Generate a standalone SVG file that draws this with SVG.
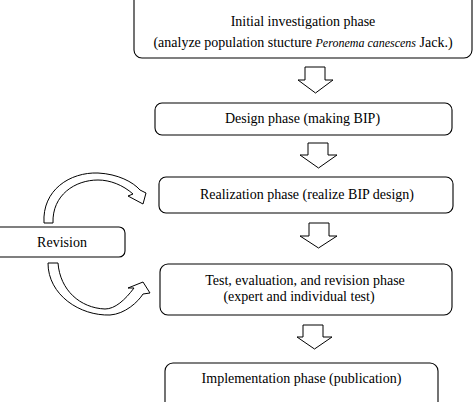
<svg xmlns="http://www.w3.org/2000/svg" width="474" height="402" viewBox="0 0 474 402">
<style>
.box{fill:#fff;stroke:#000;stroke-width:1.1}
.t{font-family:"Liberation Serif","Times New Roman","DejaVu Serif",serif;font-size:14px;fill:#000;text-anchor:middle}
.ar{fill:#fff;stroke:#000;stroke-width:1}
</style>
<rect width="474" height="402" fill="#fff"/>
<g id="n1">
<rect class="box" x="134" y="-8" width="338" height="66" rx="8"/>
<text class="t" x="303" y="26">Initial investigation phase</text>
<text class="t" x="303" y="47">(analyze population stucture <tspan font-style="italic" font-size="12px">Peronema canescens</tspan> Jack.)</text>
</g>
<g id="n2">
<rect class="box" x="155" y="103" width="297" height="32" rx="7"/>
<text class="t" x="302.5" y="123">Design phase (making BIP)</text>
</g>
<g id="n3">
<rect class="box" x="159" y="177" width="294" height="36" rx="7"/>
<text class="t" x="307" y="199">Realization phase (realize BIP design)</text>
</g>
<g id="n4">
<rect class="box" x="160" y="264" width="292" height="51" rx="8"/>
<text class="t" x="305" y="285">Test, evaluation, and revision phase</text>
<text class="t" x="299" y="301">(expert and individual test)</text>
</g>
<g id="n5">
<rect class="box" x="165" y="363" width="273" height="48" rx="8"/>
<text class="t" x="301.5" y="383">Implementation phase (publication)</text>
</g>
<g id="n6">
<rect class="box" x="-8" y="227" width="133" height="30" rx="6"/>
<text class="t" x="62" y="247">Revision</text>
</g>
<g id="connectors">
<polygon class="ar" points="305,67 325,67 325,80 333,80 315.5,93 298,80 305,80"/>
<polygon class="ar" points="308,143 328,143 328,155 337,155 318.5,168 300,155 308,155"/>
<polygon class="ar" points="309,223 329,223 329,236 337,236 318.5,248 300,236 309,236"/>
<polygon class="ar" points="303,325 323,325 323,337 332,337 314.5,349 297,337 303,337"/>
<path class="ar" d="M44,223 C42,190 70,172 98,173 C118,174 133,182 140,190 L146,193 L143,204 L128,196 L133,194 C123,185 110,180 98,180 C75,180 52,195 53,223 Z"/>
<path class="ar" d="M48,263 C48,295 80,316 110,315 C125,314 138,302 143,294 L150,293 L143,282 L128,288 L134,288 C125,300 115,309 105,309 C80,308 60,290 58,263 Z"/>
</g>
</svg>
